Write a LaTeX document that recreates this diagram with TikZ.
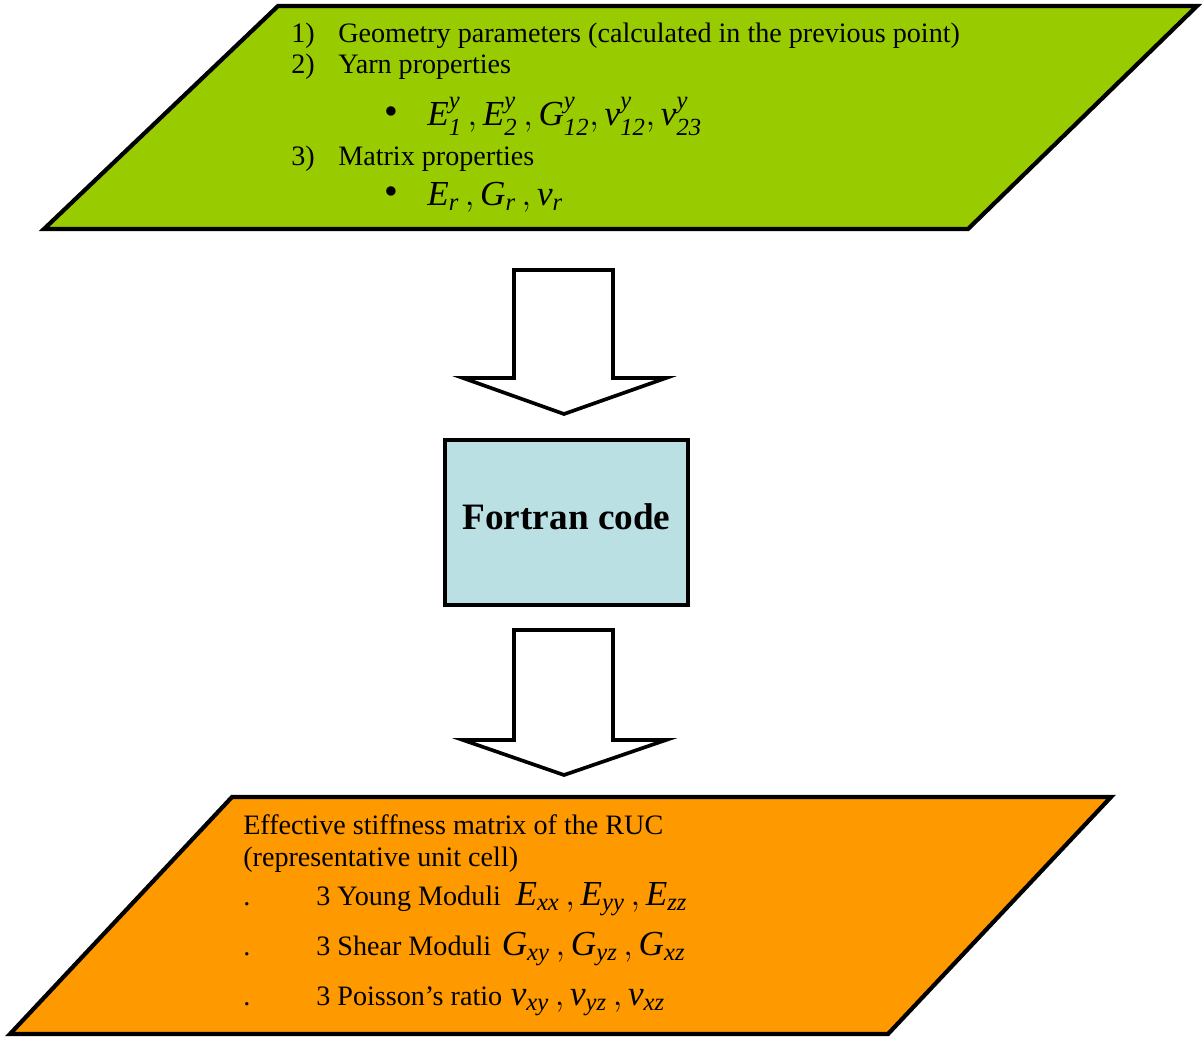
\documentclass[tikz,border=0pt]{standalone}
\usepackage{amsmath}
\usepackage{fontspec}
\setmainfont{Liberation Serif}
\usetikzlibrary{positioning}
\definecolor{yarngreen}{HTML}{99CC00}
\definecolor{rucorange}{HTML}{FF9900}
\definecolor{codeblue}{RGB}{186,224,228}
\newcommand{\iv}[1]{\textit{#1}}
\tikzset{
  flowpara/.style={draw=black,line width=3pt,line join=miter},
  blockarrow/.style={draw=black,line width=2.6pt,fill=white,line join=miter},
  codebox/.style={draw=black,line width=2.8pt,fill=codeblue,minimum width=6.075cm,minimum height=4.125cm,
    font=\fontsize{26.5}{30}\selectfont\bfseries,text depth=9pt},
  txt/.style={anchor=base west,inner sep=0pt,font=\fontsize{20}{24}\selectfont},
  dot/.style={txt,font=\fontsize{28}{30}\selectfont},
  mth/.style={txt,font=\fontsize{25}{29}\selectfont}
}

\begin{document}
\begin{tikzpicture}[x=0.025cm,y=-0.025cm]
  \useasboundingbox (0,0) rectangle (1202,1038);
  % input data
  \draw[flowpara,fill=yarngreen] (278,6) -- (1197,6) -- (968,229) -- (44,229) -- cycle;
  \node[txt] (n1) at (291,43) {1)};
  \node[txt] (geom) at (338,43) {Geometry parameters (calculated in the previous point)};
  \node[txt] (n2) at (291,74) {2)};
  \node[txt] (yarn) at (338,74) {Yarn properties};
  \node[dot] (b1) at (384,124) {\textbullet};
  \node[mth] (yarnsym) at (427,126)
    {$\iv{E}^{\iv{y}}_{\iv{1}}\,,\iv{E}^{\iv{y}}_{\iv{2}}\,,\iv{G}^{\iv{y}}_{\iv{12}},\iv{ν}^{\iv{y}}_{\iv{12}},\iv{ν}^{\iv{y}}_{\iv{23}}$};
  \node[txt] (n3) at (291,165) {3)};
  \node[txt] (matrix) at (338,165) {Matrix properties};
  \node[dot] (b2) at (384,204) {\textbullet};
  \node[mth] (matsym) at (427,205) {$\iv{E}_{\iv{r}}\,,\iv{G}_{\iv{r}}\,,\iv{ν}_{\iv{r}}$};

  % block arrows
  \foreach \ya/\yb/\yc in {270/378/414,630/740/775}
    \draw[blockarrow] (514,\ya) -- (613,\ya) -- (613,\yb) -- (666,\yb) -- (564,\yc) -- (463,\yb) -- (514,\yb) -- cycle;

  \node[codebox] (code) at (566.5,522.5) {Fortran code};

  % output
  \draw[flowpara,fill=rucorange] (232,797) -- (1111,797) -- (888,1034) -- (10,1034) -- cycle;
  \node[txt] (ruc) at (243,834) {Effective stiffness matrix of the RUC};
  \node[txt] (cell) at (243,866) {(representative unit cell)};
  \foreach \y/\nm in {905/d1,955/d2,1005/d3}
    \node[txt] (\nm) at (243,\y) {.};
  \node[txt] (young) at (316,905) {3 Young Moduli};
  \node[mth,right=14 of young.base east,anchor=base west] (youngsym)
    {$\iv{E}_{\iv{xx}}\,,\iv{E}_{\iv{yy}}\,,\iv{E}_{\iv{zz}}$};
  \node[txt] (shear) at (316,955) {3 Shear Moduli};
  \node[mth,right=10 of shear.base east,anchor=base west] (shearsym)
    {$\iv{G}_{\iv{xy}}\,,\iv{G}_{\iv{yz}}\,,\iv{G}_{\iv{xz}}$};
  \node[txt] (poisson) at (316,1005) {3 Poisson’s ratio};
  \node[mth,right=8 of poisson.base east,anchor=base west] (poissonsym)
    {$\iv{ν}_{\iv{xy}}\,,\iv{ν}_{\iv{yz}}\,,\iv{ν}_{\iv{xz}}$};
\end{tikzpicture}
\end{document}
